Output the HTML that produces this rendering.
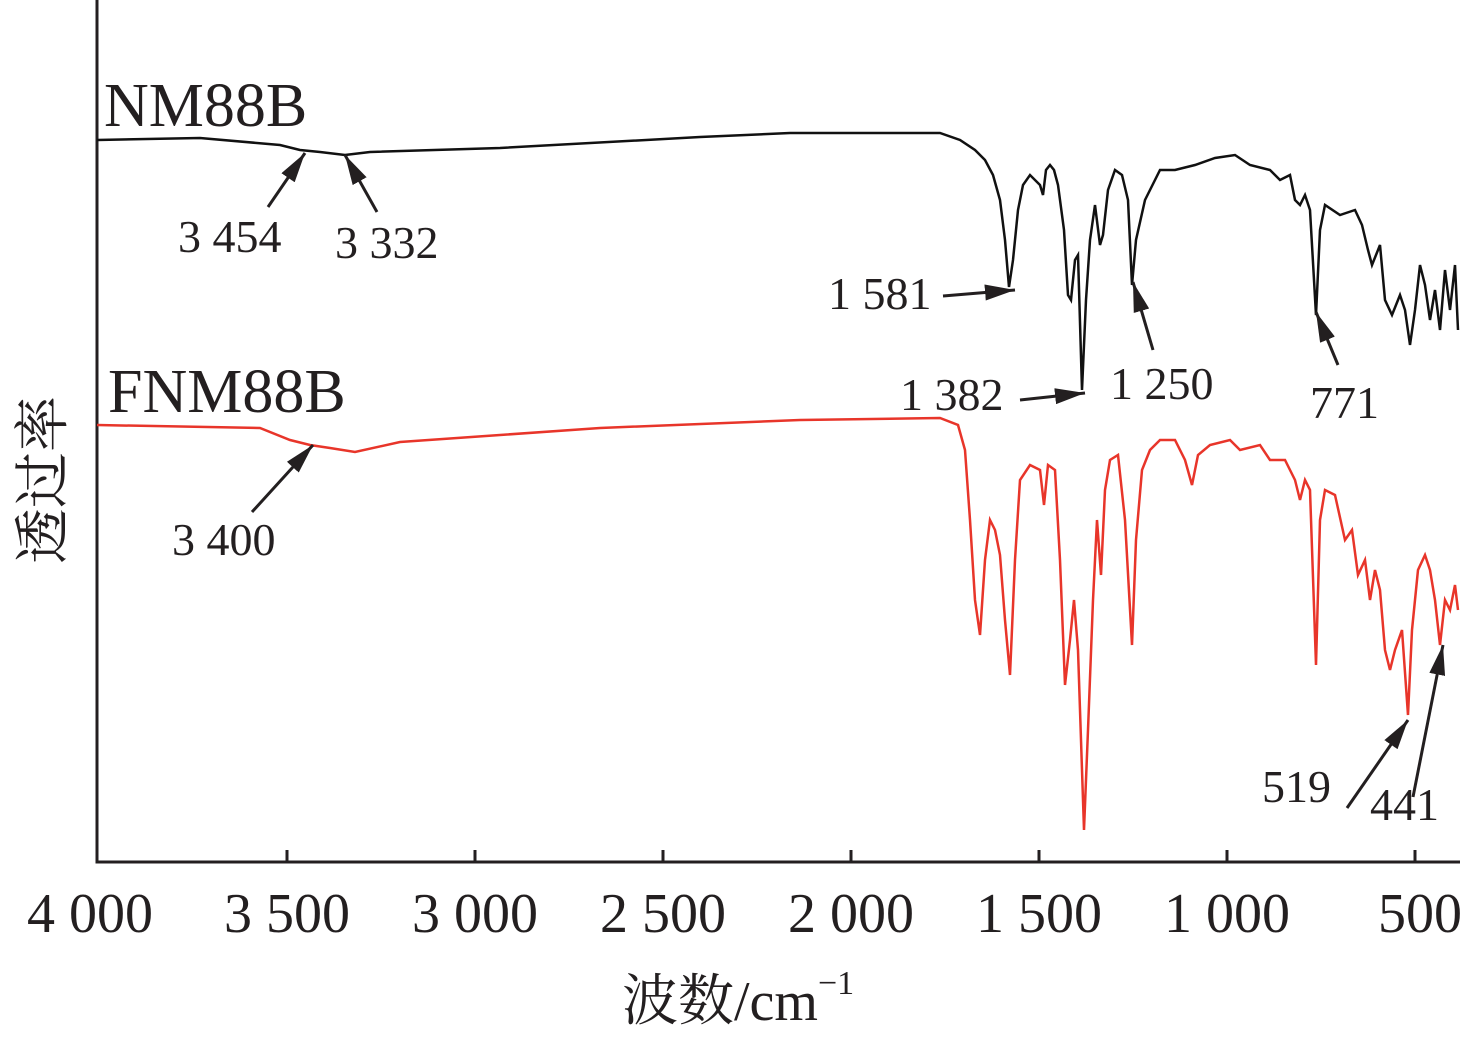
<!DOCTYPE html>
<html><head><meta charset="utf-8"><style>
html,body{margin:0;padding:0;background:#fff}
svg text{font-family:"Liberation Serif","Noto Serif CJK SC",serif;fill:#231f20}
</style></head><body>
<svg width="1470" height="1039" viewBox="0 0 1470 1039" xmlns="http://www.w3.org/2000/svg">
<defs>
<marker id="a" viewBox="0 0 30 16" refX="30" refY="8" markerWidth="30" markerHeight="16" orient="auto" markerUnits="userSpaceOnUse"><path d="M0,0 L30,8 L0,16z" fill="#231f20"/></marker></defs>
<g stroke="#231f20" stroke-width="3" fill="none">
<path d="M97,0 V862 H1460"/>
<path d="M287,862v-12M475,862v-12M663,862v-12M851,862v-12M1039,862v-12M1227,862v-12M1415,862v-12"/>
</g>
<polyline fill="none" stroke="#111" stroke-width="2.5" points="97,140 200,138 280,145 300,150 320,152 345,155 370,152 500,148 700,137 790,133 940,133 960,140 975,150 985,160 993,175 1000,200 1005,240 1009,287 1013,260 1018,210 1023,185 1030,175 1040,185 1043,195 1046,170 1050,165 1054,170 1058,185 1064,230 1068,295 1071,300 1075,260 1078,255 1082,390 1086,300 1090,240 1095,205 1100,245 1103,235 1108,190 1115,170 1122,175 1128,200 1132,285 1136,240 1145,200 1160,170 1175,170 1195,165 1215,158 1235,155 1250,165 1270,170 1280,180 1290,175 1295,200 1300,205 1305,195 1310,210 1316,315 1320,230 1325,205 1340,215 1355,210 1362,225 1368,250 1372,265 1380,245 1385,300 1392,315 1400,295 1405,310 1410,345 1415,310 1420,265 1425,285 1430,320 1435,290 1440,330 1445,270 1450,310 1455,265 1458,330"/>
<polyline fill="none" stroke="#e8352a" stroke-width="2.5" points="97,425 260,428 290,440 310,445 330,448 355,452 400,442 500,435 600,428 800,420 940,418 958,425 965,450 970,520 975,600 980,635 985,560 990,520 995,530 1000,555 1005,620 1010,675 1015,560 1020,480 1030,465 1040,470 1044,505 1048,465 1055,470 1060,560 1065,685 1070,640 1074,600 1078,650 1084,830 1088,730 1093,600 1097,520 1101,575 1105,490 1110,460 1118,455 1125,520 1132,645 1136,540 1142,470 1150,450 1160,440 1175,440 1185,460 1192,485 1198,455 1210,445 1230,440 1240,450 1260,445 1270,460 1285,460 1295,480 1300,500 1305,480 1310,490 1316,665 1320,520 1325,490 1335,495 1345,540 1352,530 1358,575 1365,560 1370,600 1375,570 1380,590 1385,650 1390,670 1395,650 1402,630 1408,715 1412,630 1418,570 1425,555 1430,570 1435,600 1440,645 1445,600 1450,610 1455,585 1458,610"/>
<g stroke="#231f20" stroke-width="3" fill="none" marker-end="url(#a)">
<line x1="268" y1="207" x2="305" y2="153"/>
<line x1="377" y1="212" x2="345" y2="155"/>
<line x1="943" y1="296" x2="1015" y2="290"/>
<line x1="1020" y1="400" x2="1085" y2="393"/>
<line x1="1153" y1="350" x2="1133" y2="282"/>
<line x1="1338" y1="365" x2="1316" y2="312"/>
<line x1="252" y1="512" x2="313" y2="445"/>
<line x1="1347" y1="808" x2="1408" y2="720"/>
<line x1="1413" y1="797" x2="1443" y2="645"/>
</g>
<g font-size="46">
<text x="178" y="252">3 454</text>
<text x="335" y="258">3 332</text>
<text x="828" y="309">1 581</text>
<text x="900" y="410">1 382</text>
<text x="1110" y="399">1 250</text>
<text x="1310" y="418">771</text>
<text x="172" y="555">3 400</text>
<text x="1262" y="802">519</text>
<text x="1370" y="820">441</text>
</g>
<g font-size="62">
<text x="104" y="126">NM88B</text>
<text x="108" y="412">FNM88B</text>
</g>
<g font-size="56" text-anchor="middle">
<text x="90" y="932">4 000</text><text x="287" y="932">3 500</text><text x="475" y="932">3 000</text><text x="663" y="932">2 500</text><text x="851" y="932">2 000</text><text x="1039" y="932">1 500</text><text x="1227" y="932">1 000</text><text x="1420" y="932">500</text>
</g>
<text x="622" y="1020" font-size="56">波数/cm<tspan font-size="34" dy="-26">−1</tspan></text>
<text transform="translate(62,480) rotate(-90)" font-size="56" text-anchor="middle">透过率</text>
</svg>
</body></html>
